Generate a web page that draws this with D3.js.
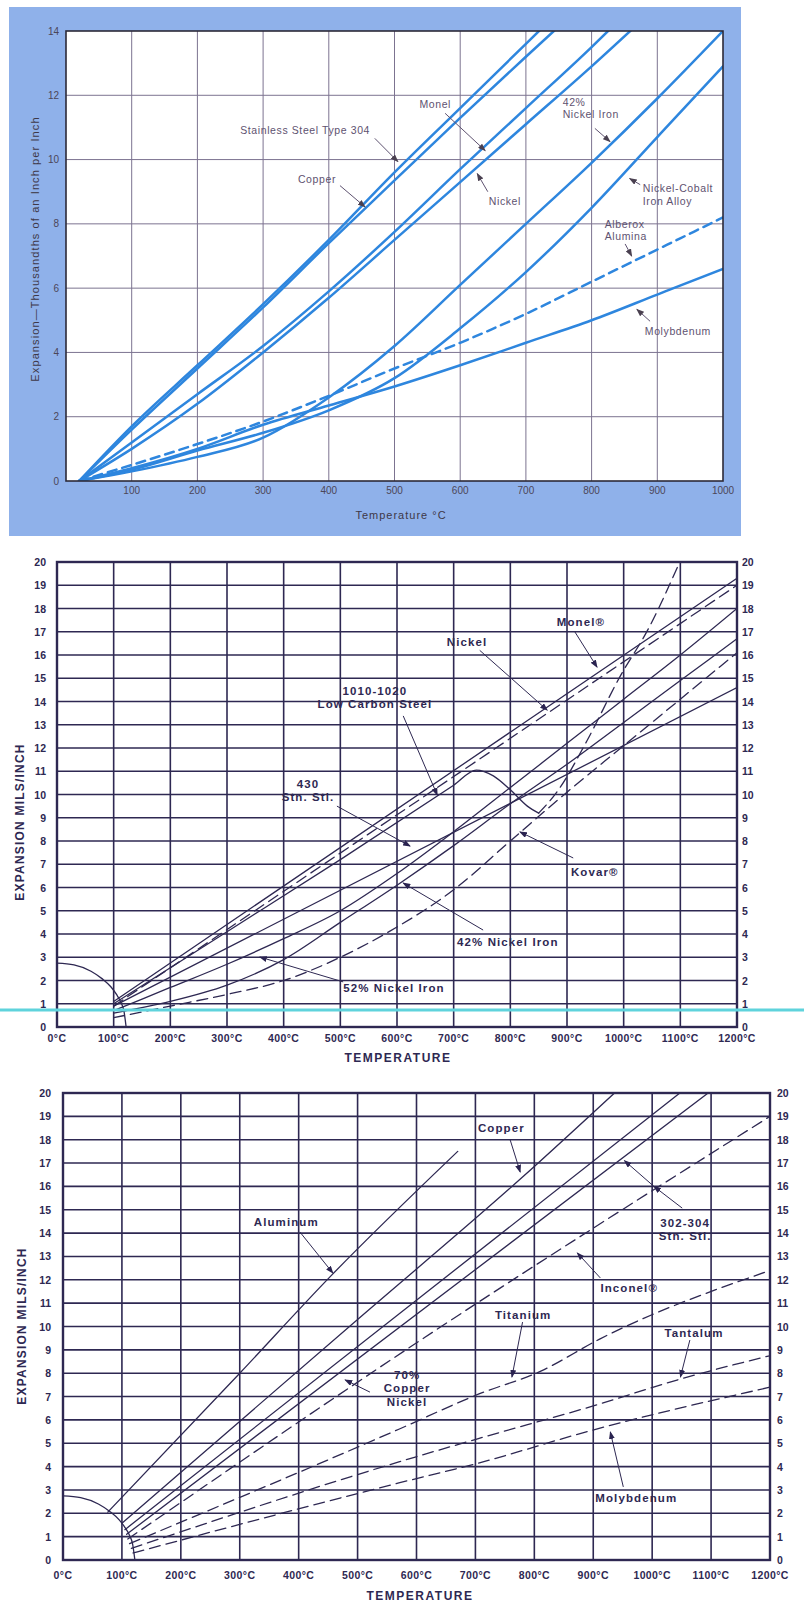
<!DOCTYPE html>
<html lang="en">
<head>
<meta charset="utf-8">
<title>Thermal expansion of alloys</title>
<script src="https://d3js.org/d3.v7.min.js"></script>
<style>
  body { margin: 0; background: #fff; }
  svg { display: block; }
  text { font-family: "Liberation Sans", Arial, sans-serif; }
</style>
</head>
<body>
<script>
// ---------- top chart: thousandths of an inch per inch vs temperature C
const topTicksX = [100, 200, 300, 400, 500, 600, 700, 800, 900, 1000];
const topTicksY = [0, 2, 4, 6, 8, 10, 12, 14];
const topT = [20, 100, 200, 300, 400, 500, 600, 700, 800, 900, 1000];

const ss304T = [20, 100, 200, 300, 400, 500, 600, 700, 750];
const ss304V = [0, 1.7, 3.6, 5.5, 7.5, 9.6, 11.6, 13.6, 14.6];
const copperT = [20, 100, 200, 300, 400, 500, 600, 700, 780];
const copperV = [0, 1.6, 3.5, 5.4, 7.4, 9.35, 11.3, 13.2, 14.7];
const monelT = [20, 100, 200, 300, 400, 500, 600, 700, 800, 850];
const monelV = [0, 1.2, 2.7, 4.2, 5.9, 7.75, 9.7, 11.6, 13.5, 14.5];
const nickelT = [20, 100, 200, 300, 400, 500, 600, 700, 800, 880];
const nickelV = [0, 1.0, 2.4, 4.0, 5.7, 7.5, 9.3, 11.1, 12.9, 14.4];
const ni42V = [0, 0.3, 0.75, 1.35, 2.6, 4.2, 6.1, 8.0, 9.9, 11.9, 14];
const niCoV = [0, 0.35, 0.95, 1.5, 2.2, 3.2, 4.75, 6.5, 8.5, 10.7, 12.9];
const aluminaV = [0, 0.5, 1.15, 1.85, 2.65, 3.5, 4.3, 5.2, 6.2, 7.2, 8.2];
const molyV = [0, 0.4, 1.0, 1.75, 2.35, 2.94, 3.6, 4.3, 5.0, 5.8, 6.6];

// ---------- middle chart: mils per inch
const midTicksX = [0, 100, 200, 300, 400, 500, 600, 700, 800, 900, 1000, 1100, 1200];
const midTicksY = d3.range(0, 21);
const midT = [100, 200, 300, 400, 500, 600, 700, 800, 900, 1000, 1100, 1200];

const nickelMT = [100, 1200];
const nickelMV = [1.1, 19.3];
const monelMT = [100, 1200];
const monelMV = [0.9, 19.0];
const lcsT = [100, 300, 500, 700, 740, 770, 800, 830, 850];
const lcsV = [1.0, 4.1, 7.2, 10.4, 11.05, 10.8, 10.2, 9.5, 9.2];
const lcsHotT = [850, 882, 935, 993, 1043, 1099];
const lcsHotV = [9.2, 10.1, 12.3, 15.05, 17.1, 20];
const ss430T = [100, 1200];
const ss430V = [0.9, 14.6];
const ni42MV = [0.6, 1.1, 1.8, 2.9, 4.5, 6.1, 7.8, 9.6, 11.3, 13.1, 14.9, 16.7];
const kovarMV = [0.4, 0.9, 1.4, 2.0, 3.0, 4.3, 5.9, 8.0, 10.1, 12.1, 14.1, 16.1];
const ni52MV = [0.7, 1.7, 2.7, 3.8, 5.0, 6.6, 8.4, 10.3, 12.2, 14.1, 16.0, 18.0];

// reference arc drawn near the origin of the lower two charts
const arcT = [0, 30, 60, 80, 95, 105, 113, 118, 122];
const arcV = [2.75, 2.67, 2.4, 2.07, 1.73, 1.4, 1.05, 0.7, 0];

// ---------- bottom chart: mils per inch
const alT = [76, 300, 456, 670];
const alV = [2.05, 8.0, 12.2, 17.5];
const cuT = [101, 500, 780, 936];
const cuV = [1.6, 10.3, 16.4, 20];
const ssT = [105, 1047];
const ssV = [1.3, 20];
const cuNiT = [108, 1095];
const cuNiV = [1.1, 20];
const incT = [110, 615, 1200];
const incV = [0.9, 9.55, 19.0];
const tiT = [113, 570, 705, 812, 910, 1200];
const tiV = [0.7, 5.6, 7.1, 8.1, 9.45, 12.4];
const taT = [116, 570, 705, 900, 1048, 1200];
const taV = [0.5, 4.2, 5.2, 6.6, 7.75, 8.75];
const moT = [119, 570, 705, 897, 1200];
const moV = [0.3, 3.3, 4.15, 5.55, 7.4];

const W = 804, H = 1606;
const svg = d3.select("body").append("svg").attr("width", W).attr("height", H);

const defs = svg.append("defs");
function marker(id, color) {
  defs.append("marker").attr("id", id)
    .attr("markerUnits", "userSpaceOnUse")
    .attr("markerWidth", 8).attr("markerHeight", 6)
    .attr("refX", 7).attr("refY", 3).attr("orient", "auto")
    .append("path").attr("d", "M0,0 L8,3 L0,6 z").attr("fill", color);
}
marker("headTop", "#4a4050");
marker("headNavy", "#2a2350");

function clip(id, x, y, xMax, yMax) {
  defs.append("clipPath").attr("id", id).append("rect")
    .attr("x", x(0)).attr("y", y(yMax))
    .attr("width", x(xMax) - x(0)).attr("height", y(0) - y(yMax));
}

function zip(T, V) { return T.map((t, i) => [t, V[i]]); }

function drawLine(g, x, y, T, V, style) {
  const line = d3.line().x(d => x(d[0])).y(d => y(d[1])).curve(d3.curveMonotoneX);
  g.append("path").datum(zip(T, V))
    .attr("d", line)
    .attr("fill", "none")
    .attr("stroke", style.color)
    .attr("stroke-width", style.width)
    .attr("stroke-dasharray", style.dash || null)
    .attr("stroke-linecap", "round");
}

function annotate(g, x, y, notes, style, head) {
  notes.forEach(n => {
    const t = g.append("text")
      .attr("x", x(n.at[0])).attr("y", y(n.at[1]))
      .attr("text-anchor", n.anchor || "start")
      .attr("fill", style.color).attr("font-size", style.size)
      .attr("font-weight", style.weight)
      .attr("letter-spacing", style.spacing);
    n.lines.forEach((s, i) => {
      t.append("tspan").attr("x", x(n.at[0])).attr("dy", i === 0 ? "0.35em" : style.size * 1.15).text(s);
    });
    (n.arrows || []).forEach(a => {
      g.append("line")
        .attr("x1", x(a[0])).attr("y1", y(a[1]))
        .attr("x2", x(a[2])).attr("y2", y(a[3]))
        .attr("stroke", style.color).attr("stroke-width", 1)
        .attr("marker-end", "url(#" + head + ")");
    });
  });
}

// =================== TOP CHART ===================
const topG = svg.append("g");
topG.append("rect").attr("x", 9).attr("y", 7).attr("width", 732).attr("height", 529).attr("fill", "#8fb1ea");

const x1 = d3.scaleLinear().domain([0, 1000]).range([66, 723]);
const y1 = d3.scaleLinear().domain([0, 14]).range([481, 31]);
clip("clipTop", x1, y1, 1000, 14);

topG.append("rect").attr("x", x1(0)).attr("y", y1(14))
  .attr("width", x1(1000) - x1(0)).attr("height", y1(0) - y1(14)).attr("fill", "#fff");

topG.append("g").selectAll("line").data(topTicksX.slice(0, -1)).join("line")
  .attr("x1", d => x1(d)).attr("x2", d => x1(d))
  .attr("y1", y1(0)).attr("y2", y1(14))
  .attr("stroke", "#7c7390").attr("stroke-width", 1);
topG.append("g").selectAll("line").data(topTicksY.slice(1, -1)).join("line")
  .attr("x1", x1(0)).attr("x2", x1(1000))
  .attr("y1", d => y1(d)).attr("y2", d => y1(d))
  .attr("stroke", "#7c7390").attr("stroke-width", 1);

const topLines = topG.append("g").attr("clip-path", "url(#clipTop)");
const topStyle = { color: "#2e86de", width: 2.5 };
drawLine(topLines, x1, y1, ss304T, ss304V, topStyle);
drawLine(topLines, x1, y1, copperT, copperV, topStyle);
drawLine(topLines, x1, y1, monelT, monelV, topStyle);
drawLine(topLines, x1, y1, nickelT, nickelV, topStyle);
drawLine(topLines, x1, y1, topT, ni42V, topStyle);
drawLine(topLines, x1, y1, topT, niCoV, topStyle);
drawLine(topLines, x1, y1, topT, aluminaV, { color: "#2e86de", width: 2.5, dash: "9,6" });
drawLine(topLines, x1, y1, topT, molyV, topStyle);

topG.append("rect").attr("x", x1(0)).attr("y", y1(14))
  .attr("width", x1(1000) - x1(0)).attr("height", y1(0) - y1(14))
  .attr("fill", "none").attr("stroke", "#2c2a38").attr("stroke-width", 1.6);

topG.append("g").selectAll("text").data(topTicksX).join("text")
  .attr("x", d => x1(d)).attr("y", y1(0) + 13)
  .attr("text-anchor", "middle").attr("font-size", 10).attr("fill", "#4c4658")
  .text(d => d);
topG.append("g").selectAll("text").data(topTicksY).join("text")
  .attr("x", x1(0) - 7).attr("y", d => y1(d) + 3.5)
  .attr("text-anchor", "end").attr("font-size", 10).attr("fill", "#4c4658")
  .text(d => d);

topG.append("text").attr("x", 401).attr("y", 519).attr("text-anchor", "middle")
  .attr("font-size", 11).attr("letter-spacing", 1).attr("fill", "#3e3848").text("Temperature °C");
topG.append("text").attr("transform", "translate(39,249) rotate(-90)")
  .attr("text-anchor", "middle").attr("font-size", 11).attr("letter-spacing", 1.1).attr("fill", "#3e3848")
  .text("Expansion—Thousandths of an Inch per Inch");

const topNotes = [
  { lines: ["Stainless Steel Type 304"], at: [364, 10.9], anchor: "middle", arrows: [[470, 10.66, 505, 9.94]] },
  { lines: ["Copper"], at: [382, 9.4], anchor: "middle", arrows: [[417, 9.19, 455, 8.53]] },
  { lines: ["Monel"], at: [562, 11.72], anchor: "middle", arrows: [[577, 11.44, 638, 10.28]] },
  { lines: ["Nickel"], at: [668, 8.69], anchor: "middle", arrows: [[642, 9.0, 626, 9.56]] },
  { lines: ["42%", "Nickel Iron"], at: [756, 11.78], arrows: [[805, 10.97, 828, 10.56]] },
  { lines: ["Nickel-Cobalt", "Iron Alloy"], at: [878, 9.09], arrows: [[874, 9.22, 858, 9.41]] },
  { lines: ["Alberox", "Alumina"], at: [820, 8.0], arrows: [[851, 7.375, 861, 7.0]] },
  { lines: ["Molybdenum"], at: [881, 4.66], arrows: [[889, 4.97, 869, 5.34]] }
];
annotate(topG, x1, y1, topNotes, { color: "#5e5270", size: 10.5, spacing: 0.6, weight: null }, "headTop");

// =================== MIDDLE CHART ===================
const midG = svg.append("g");
const x2 = d3.scaleLinear().domain([0, 1200]).range([57, 737]);
const y2 = d3.scaleLinear().domain([0, 20]).range([1027, 562]);
const navy = "#2e2852";
clip("clipMid", x2, y2, 1200, 20);

function gridChart(g, x, y, ticksX, ticksY, leftX, rightX, labelY) {
  g.append("g").selectAll("line").data(ticksX).join("line")
    .attr("x1", d => x(d)).attr("x2", d => x(d))
    .attr("y1", y(0)).attr("y2", y(20))
    .attr("stroke", navy).attr("stroke-width", 1.6);
  g.append("g").selectAll("line").data(ticksY).join("line")
    .attr("x1", x(0)).attr("x2", x(1200))
    .attr("y1", d => y(d)).attr("y2", d => y(d))
    .attr("stroke", navy).attr("stroke-width", 1.6);
  g.append("rect").attr("x", x(0)).attr("y", y(20))
    .attr("width", x(1200) - x(0)).attr("height", y(0) - y(20))
    .attr("fill", "none").attr("stroke", navy).attr("stroke-width", 2.4);
  g.append("g").selectAll("text").data(ticksY).join("text")
    .attr("x", leftX).attr("y", d => y(d) + 4)
    .attr("text-anchor", "end").attr("font-size", 10.5).attr("font-weight", "bold").attr("fill", navy)
    .text(d => d);
  g.append("g").selectAll("text").data(ticksY).join("text")
    .attr("x", rightX).attr("y", d => y(d) + 4)
    .attr("text-anchor", "start").attr("font-size", 10.5).attr("font-weight", "bold").attr("fill", navy)
    .text(d => d);
  g.append("g").selectAll("text").data(ticksX).join("text")
    .attr("x", d => x(d)).attr("y", labelY)
    .attr("text-anchor", "middle").attr("font-size", 10.5).attr("font-weight", "bold")
    .attr("letter-spacing", 0.4).attr("fill", navy)
    .text(d => d + "°C");
}

function axisTitles(g, xc, xy, yx, yc) {
  g.append("text").attr("x", xc).attr("y", xy).attr("text-anchor", "middle")
    .attr("font-size", 12).attr("font-weight", "bold").attr("letter-spacing", 1.5)
    .attr("fill", navy).text("TEMPERATURE");
  g.append("text").attr("transform", "translate(" + yx + "," + yc + ") rotate(-90)")
    .attr("text-anchor", "middle").attr("font-size", 12).attr("font-weight", "bold")
    .attr("letter-spacing", 1.2).attr("fill", navy)
    .text("EXPANSION MILS/INCH");
}

gridChart(midG, x2, y2, midTicksX, midTicksY, 46, 742, 1042);

const midLines = midG.append("g").attr("clip-path", "url(#clipMid)");
const midSolid = { color: navy, width: 1.3 };
const midDash = { color: navy, width: 1.3, dash: "11,6" };
drawLine(midLines, x2, y2, arcT, arcV, midSolid);
drawLine(midLines, x2, y2, nickelMT, nickelMV, midSolid);
drawLine(midLines, x2, y2, monelMT, monelMV, midDash);
drawLine(midLines, x2, y2, lcsT, lcsV, midSolid);
drawLine(midLines, x2, y2, lcsHotT, lcsHotV, midDash);
drawLine(midLines, x2, y2, ss430T, ss430V, midSolid);
drawLine(midLines, x2, y2, midT, ni42MV, midSolid);
drawLine(midLines, x2, y2, midT, kovarMV, midDash);
drawLine(midLines, x2, y2, midT, ni52MV, midSolid);

const labelStyle = { color: navy, size: 11.5, spacing: 1.1, weight: "bold" };
const midNotes = [
  { lines: ["Monel®"], at: [882, 17.42], arrows: [[914, 16.99, 953, 15.48]] },
  { lines: ["Nickel"], at: [688, 16.56], arrows: [[746, 16.2, 865, 13.63]] },
  { lines: ["1010-1020", "Low Carbon Steel"], at: [561, 14.45], anchor: "middle", arrows: [[611, 13.38, 671, 9.98]] },
  { lines: ["430", "Stn. Stl."], at: [443, 10.45], anchor: "middle", arrows: [[494, 9.5, 623, 7.78]] },
  { lines: ["Kovar®"], at: [907, 6.67], arrows: [[911, 7.27, 817, 8.39]] },
  { lines: ["42% Nickel Iron"], at: [706, 3.66], arrows: [[752, 4.17, 611, 6.19]] },
  { lines: ["52% Nickel Iron"], at: [505, 1.68], arrows: [[505, 1.94, 358, 3.01]] }
];
annotate(midG, x2, y2, midNotes, labelStyle, "headNavy");
axisTitles(midG, 398, 1062, 24, 822);

// cyan scan line across the page
svg.append("line").attr("x1", 0).attr("x2", W).attr("y1", 1010).attr("y2", 1010)
  .attr("stroke", "#5fd3dc").attr("stroke-width", 3);

// =================== BOTTOM CHART ===================
const botG = svg.append("g");
const x3 = d3.scaleLinear().domain([0, 1200]).range([63, 770]);
const y3 = d3.scaleLinear().domain([0, 20]).range([1560, 1093]);
clip("clipBot", x3, y3, 1200, 20);

gridChart(botG, x3, y3, midTicksX, midTicksY, 51, 777, 1579);

const botLines = botG.append("g").attr("clip-path", "url(#clipBot)");
drawLine(botLines, x3, y3, arcT, arcV, midSolid);
drawLine(botLines, x3, y3, alT, alV, midSolid);
drawLine(botLines, x3, y3, cuT, cuV, midSolid);
drawLine(botLines, x3, y3, ssT, ssV, midSolid);
drawLine(botLines, x3, y3, cuNiT, cuNiV, midSolid);
drawLine(botLines, x3, y3, incT, incV, midDash);
drawLine(botLines, x3, y3, tiT, tiV, midDash);
drawLine(botLines, x3, y3, taT, taV, midDash);
drawLine(botLines, x3, y3, moT, moV, midDash);

const botNotes = [
  { lines: ["Aluminum"], at: [379, 14.48], anchor: "middle", arrows: [[402, 14.05, 458, 12.29]] },
  { lines: ["Copper"], at: [744, 18.5], anchor: "middle", arrows: [[759, 17.99, 776, 16.62]] },
  { lines: ["302-304", "Stn. Stl."], at: [1056, 14.45], anchor: "middle",
    arrows: [[1051, 15.07, 1003, 16.0], [1003, 16.0, 953, 17.1]] },
  { lines: ["Inconel®"], at: [961, 11.65], anchor: "middle", arrows: [[912, 12.08, 873, 13.15]] },
  { lines: ["Titanium"], at: [781, 10.49], anchor: "middle", arrows: [[780, 10.19, 762, 7.84]] },
  { lines: ["Tantalum"], at: [1071, 9.72], anchor: "middle", arrows: [[1064, 9.42, 1048, 7.84]] },
  { lines: ["Molybdenum"], at: [973, 2.66], anchor: "middle", arrows: [[951, 3.13, 929, 5.48]] },
  { lines: ["70%", "Copper", "Nickel"], at: [584, 7.92], anchor: "middle", arrows: [[521, 7.19, 479, 7.71]] }
];
annotate(botG, x3, y3, botNotes, labelStyle, "headNavy");
axisTitles(botG, 420, 1600, 26, 1326);
</script>
</body>
</html>
